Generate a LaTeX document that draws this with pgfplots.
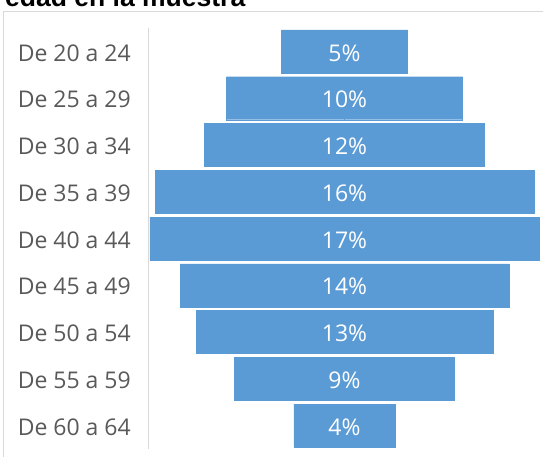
\documentclass[border=0pt]{standalone}
\usepackage{fontspec}
\setmainfont{Open Sans}
\newfontfamily\titlefont{Liberation Sans}
\usepackage{pgfplots}
\usepackage{pgfplotstable}
\pgfplotsset{compat=1.18}

\definecolor{barblue}{HTML}{5B9BD5}
\definecolor{labelgrey}{HTML}{595959}
\definecolor{linegrey}{HTML}{D9D9D9}

% Share of the sample in each age group (%)
\pgfplotstableread{
idx v
0 5.36
1 10.04
2 11.90
3 16.10
4 16.55
5 13.96
6 12.60
7 9.36
8 4.30
}\agedata

\begin{document}
\begin{tikzpicture}[x=1pt,y=1pt]
\useasboundingbox (0,0) rectangle (543,-457);
\clip (0,0) rectangle (543,-457);

% chart frame
\draw[linegrey, line width=1pt] (3.5,-700) |- (900,-11.5);

% title (second line visible)
\node[anchor=base west, inner sep=0pt] at (5,-7)
  {\titlefont\bfseries\fontsize{26.5}{30}\selectfont edad en la muestra};

\begin{axis}[
  at={(148pt,-28pt)}, anchor=north west,
  scale only axis, width=393pt, height=421pt,
  xmin=-8.35, xmax=8.35,
  ymin=-0.5, ymax=8.5, y dir=reverse,
  axis x line=none,
  axis y line*=left,
  y axis line style={draw=linegrey, line width=1pt, -},
  ytick={0,...,8},
  yticklabels={De 20 a 24, De 25 a 29, De 30 a 34, De 35 a 39, De 40 a 44,
               De 45 a 49, De 50 a 54, De 55 a 59, De 60 a 64},
  major tick length=0pt,
  yticklabel style={font=\fontsize{23}{27}\selectfont, text=labelgrey,
                    anchor=east, inner sep=0pt, xshift=-17pt, yshift=-1.5pt},
  clip=false,
]
% each bar is drawn as two halves around the centre line
\addplot[xbar, bar width=43pt, bar shift=0pt, fill=barblue,
         draw=barblue, line width=0.3pt]
  table[x expr=\thisrow{v}/2, y=idx] {\agedata};
\addplot[xbar, bar width=43pt, bar shift=0pt, fill=barblue,
         draw=barblue, line width=0.3pt]
  table[x expr=-\thisrow{v}/2, y=idx] {\agedata};
% value labels in the middle of each bar
\addplot[only marks, mark=none, point meta=explicit,
         nodes near coords={\pgfmathprintnumber[fixed,precision=0,assume math mode=true]{\pgfplotspointmeta}\%},
         every node near coord/.style={anchor=center, text=white, yshift=-1.5pt,
           font=\fontsize{23}{27}\selectfont}]
  table[x expr=0, y=idx, meta=v] {\agedata};
\end{axis}
\end{tikzpicture}
\end{document}
